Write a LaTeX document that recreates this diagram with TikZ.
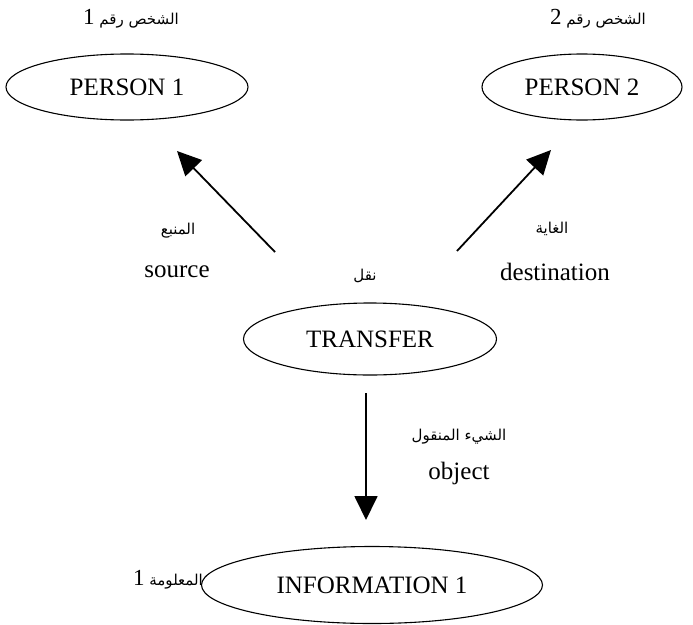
\documentclass[tikz,border=0pt]{standalone}
\usepackage{fontspec}
\setmainfont{Liberation Serif}
\newfontfamily\arabicfont[Script=Arabic]{DejaVu Sans}
\TeXXeTstate=1
\usetikzlibrary{shapes.geometric,arrows.meta}
\tikzset{
  ell/.style={ellipse, draw, line width=1.1pt, inner sep=0pt, font=\fontsize{25}{30}\selectfont},
  lat/.style={font=\fontsize{25}{30}\selectfont, inner sep=0pt},
  ar/.style={font=\arabicfont\fontsize{15}{18}\selectfont, inner sep=0pt},
  arr/.style={line width=1.8pt, -{Triangle[length=24pt,width=23pt]}}
}
\newcommand{\numfont}{\fontspec{Liberation Serif}\fontsize{23}{26}\selectfont}
\begin{document}
\begin{tikzpicture}[x=1pt,y=-1pt]
\useasboundingbox (0,0) rectangle (693,624);
\node[ell, minimum width=242pt, minimum height=66pt] (p1) at (127,87) {PERSON 1};
\node[ell, minimum width=200pt, minimum height=66pt] (p2) at (582,87) {PERSON 2};
\node[ell, minimum width=253pt, minimum height=72pt] (tr) at (370,339) {TRANSFER};
\node[ell, minimum width=341pt, minimum height=77pt] (inf) at (372,585) {INFORMATION 1};

\node[ar] (l1) at (131,19) {\beginR الشخص رقم {\numfont 1}\endR};
\node[ar] (l2) at (598,19) {\beginR الشخص رقم {\numfont 2}\endR};

\coordinate (s1) at (275,252);
\coordinate (e1) at (177,151);
\coordinate (s2) at (457,251);
\coordinate (e2) at (551,150);
\coordinate (s3) at (366,393);
\coordinate (e3) at (366,520);
\draw[arr] (s1) -- (e1);
\draw[arr] (s2) -- (e2);
\draw[arr] (s3) -- (e3);

\node[ar] (srcA) at (178,231) {\beginR المنبع\endR};
\node[lat] (src) at (177,272) {source};
\node[ar] (trA) at (365,276) {\beginR نقل\endR};
\node[ar] (dstA) at (552,229) {\beginR الغاية\endR};
\node[lat] (dst) at (555,272) {destination};
\node[ar] (objA) at (459,437) {\beginR الشيء المنقول\endR};
\node[lat] (obj) at (459,473) {object};
\node[ar] (infA) at (168,580) {\beginR المعلومة {\numfont 1}\endR};
\end{tikzpicture}
\end{document}
